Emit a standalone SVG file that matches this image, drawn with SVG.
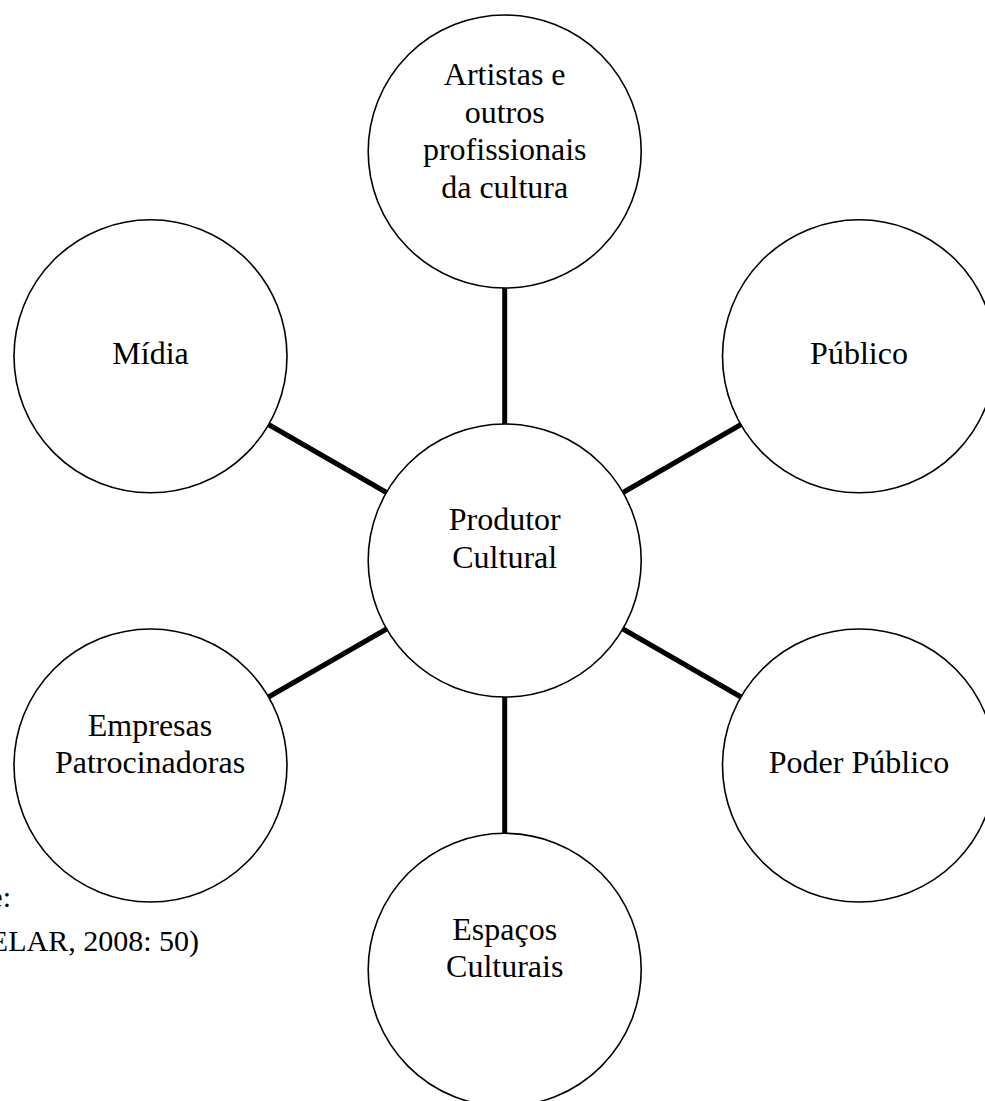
<svg xmlns="http://www.w3.org/2000/svg" width="985" height="1101" viewBox="0 0 985 1101">
  <style>
    .node { fill: #ffffff; stroke: #000000; stroke-width: 1.6; }
    .conn { stroke: #000000; stroke-width: 5; fill: none; }
    text { font-family: "Liberation Serif", "Times New Roman", serif; font-size: 32px; fill: #000000; }
    .c { text-anchor: middle; }
    .e { text-anchor: end; }
    .src { font-size: 30px; }
  </style>
  <rect width="985" height="1101" fill="#ffffff"/>
  <g id="connectors">
    <line class="conn" x1="504.7" y1="288" x2="504.7" y2="424"/>
    <line class="conn" x1="504.7" y1="697" x2="504.7" y2="833"/>
    <line class="conn" x1="268.5" y1="424.5" x2="386.5" y2="492.5"/>
    <line class="conn" x1="741" y1="424.5" x2="623" y2="492.5"/>
    <line class="conn" x1="268.5" y1="697" x2="386.5" y2="629"/>
    <line class="conn" x1="741" y1="697" x2="623" y2="629"/>
  </g>
  <g id="node-artistas">
    <circle class="node" cx="504.7" cy="151.5" r="136.5"/>
    <text class="c" x="504.7" y="85">Artistas e</text>
    <text class="c" x="504.7" y="122.5">outros</text>
    <text class="c" x="504.7" y="160">profissionais</text>
    <text class="c" x="504.7" y="197.5">da cultura</text>
  </g>
  <g id="node-midia">
    <circle class="node" cx="150.5" cy="356.3" r="136.5"/>
    <text class="c" x="150.5" y="364">Mídia</text>
  </g>
  <g id="node-publico">
    <circle class="node" cx="859" cy="356.3" r="136.5"/>
    <text class="c" x="859" y="364">Público</text>
  </g>
  <g id="node-produtor">
    <circle class="node" cx="504.7" cy="560.5" r="136.5"/>
    <text class="c" x="504.7" y="530">Produtor</text>
    <text class="c" x="504.7" y="568">Cultural</text>
  </g>
  <g id="node-empresas">
    <circle class="node" cx="150.5" cy="765.5" r="136.5"/>
    <text class="c" x="150" y="736">Empresas</text>
    <text class="c" x="150" y="773.3">Patrocinadoras</text>
  </g>
  <g id="node-poder">
    <circle class="node" cx="859" cy="765.5" r="136.5"/>
    <text class="c" x="859" y="773.3">Poder Público</text>
  </g>
  <g id="node-espacos">
    <circle class="node" cx="504.7" cy="969.8" r="136.5"/>
    <text class="c" x="504.7" y="940">Espaços</text>
    <text class="c" x="504.7" y="976.7">Culturais</text>
  </g>
  <g id="source">
    <text class="e src" x="11" y="907">e:</text>
    <text class="e src" x="199" y="951">ELAR, 2008: 50)</text>
  </g>
</svg>
